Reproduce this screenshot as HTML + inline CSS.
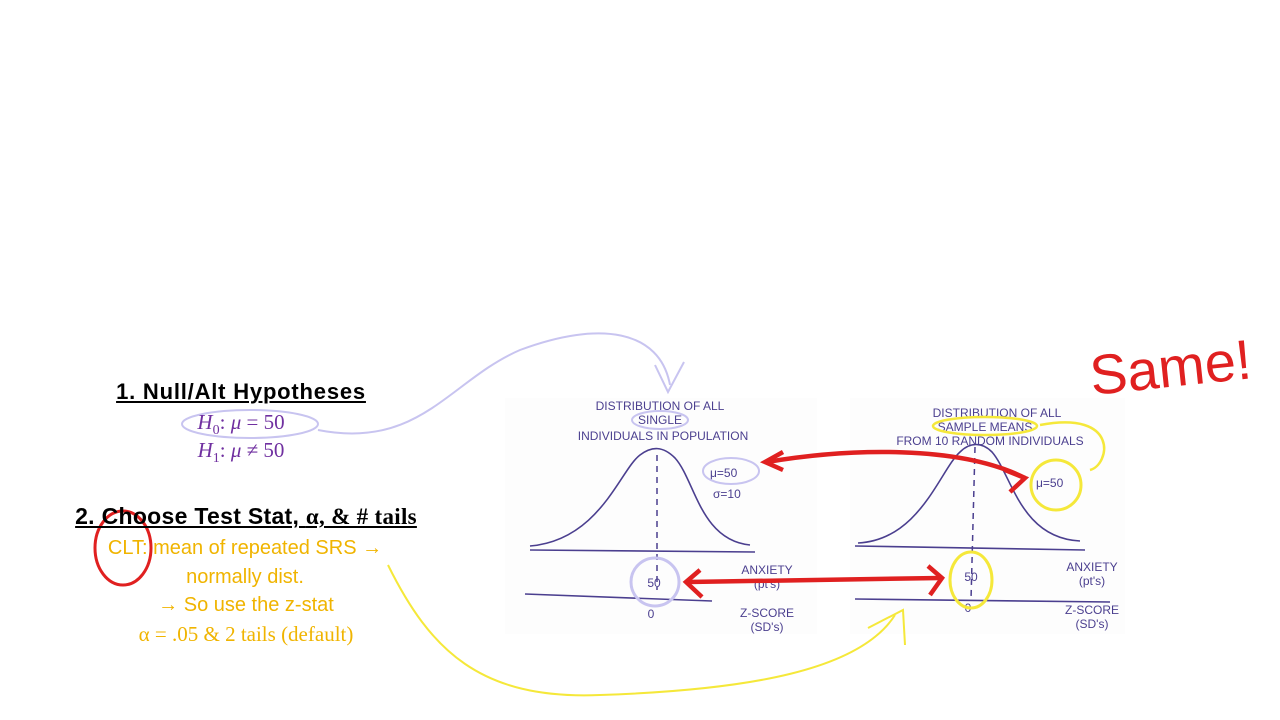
<!DOCTYPE html>
<html><head><meta charset="utf-8"><style>
body{margin:0;width:1280px;height:720px;background:#fff;overflow:hidden;position:relative;font-family:"Liberation Sans",sans-serif}
.t{position:absolute;white-space:nowrap;transform:translateX(-50%)}
.h{font-weight:bold;text-decoration:underline;font-size:22px;color:#000;letter-spacing:0.3px}
.m{font-family:"Liberation Serif",serif;font-size:21px;color:#7030a0}
.o{font-size:20px;color:#f0b400}
svg{position:absolute;left:0;top:0}
.hw{font-family:"Liberation Sans",sans-serif;fill:#4b3f8f;font-size:12px}
</style></head><body>
<svg width="1280" height="720">
<rect x="505" y="398" width="312" height="236" fill="#fdfdfd"/>
<rect x="850" y="398" width="275" height="236" fill="#fdfdfd"/>
<path d="M318,430 C420,450 450,380 520,350 C600,320 660,330 670,385" fill="none" stroke="#c8c4f0" stroke-width="2"/>
<path d="M655,365 L668,392 L684,362" fill="none" stroke="#c8c4f0" stroke-width="2"/>
<ellipse cx="250" cy="424" rx="68" ry="14" fill="none" stroke="#c8c4f0" stroke-width="2"/>
<path d="M530,546 C600,540 620,470 640,455 C652,446 663,446 675,458 C695,480 700,540 750,545" fill="none" stroke="#4b3f8f" stroke-width="1.6"/>
<line x1="530" y1="550" x2="755" y2="552" stroke="#4b3f8f" stroke-width="1.6"/>
<line x1="657" y1="455" x2="657" y2="590" stroke="#4b3f8f" stroke-width="1.5" stroke-dasharray="6,5"/>
<line x1="525" y1="594" x2="712" y2="601" stroke="#4b3f8f" stroke-width="1.6"/>
<text class="hw" x="660" y="410" text-anchor="middle">DISTRIBUTION  OF ALL</text>
<text class="hw" x="660" y="424" text-anchor="middle">SINGLE</text>
<text class="hw" x="663" y="440" text-anchor="middle">INDIVIDUALS IN POPULATION</text>
<ellipse cx="660" cy="420" rx="28" ry="9" fill="none" stroke="#c8c4f0" stroke-width="2"/>
<text class="hw" x="710" y="477" font-size="15">μ=50</text>
<text class="hw" x="713" y="498" font-size="15">σ=10</text>
<ellipse cx="731" cy="471" rx="28" ry="13" fill="none" stroke="#c8c4f0" stroke-width="2"/>
<text class="hw" x="654" y="587" text-anchor="middle" font-size="15">50</text>
<text class="hw" x="651" y="618" text-anchor="middle" font-size="15">0</text>
<ellipse cx="655" cy="582" rx="24" ry="24" fill="none" stroke="#c8c4f0" stroke-width="3"/>
<text class="hw" x="767" y="574" text-anchor="middle" font-size="11">ANXIETY</text>
<text class="hw" x="767" y="588" text-anchor="middle" font-size="10">(pt's)</text>
<text class="hw" x="767" y="617" text-anchor="middle" font-size="11">Z-SCORE</text>
<text class="hw" x="767" y="631" text-anchor="middle" font-size="10">(SD's)</text>
<path d="M858,543 C920,540 940,470 960,452 C970,442 982,442 992,452 C1012,475 1020,538 1080,541" fill="none" stroke="#4b3f8f" stroke-width="1.6"/>
<line x1="855" y1="546" x2="1085" y2="550" stroke="#4b3f8f" stroke-width="1.6"/>
<line x1="975" y1="447" x2="971" y2="600" stroke="#4b3f8f" stroke-width="1.5" stroke-dasharray="6,5"/>
<line x1="855" y1="599" x2="1110" y2="602" stroke="#4b3f8f" stroke-width="1.6"/>
<text class="hw" x="997" y="417" text-anchor="middle">DISTRIBUTION OF ALL</text>
<text class="hw" x="985" y="431" text-anchor="middle">SAMPLE MEANS</text>
<text class="hw" x="990" y="445" text-anchor="middle">FROM 10 RANDOM INDIVIDUALS</text>
<ellipse cx="985" cy="426" rx="52" ry="9" fill="none" stroke="#f5e83a" stroke-width="2.5"/>
<path d="M1040,425 C1120,410 1110,465 1090,470" fill="none" stroke="#f5e83a" stroke-width="2.5"/>
<text class="hw" x="1036" y="487" font-size="15">μ=50</text>
<circle cx="1056" cy="485" r="25" fill="none" stroke="#f5e83a" stroke-width="3"/>
<text class="hw" x="971" y="581" text-anchor="middle" font-size="15">50</text>
<text class="hw" x="968" y="612" text-anchor="middle" font-size="15">0</text>
<ellipse cx="971" cy="580" rx="21" ry="28" fill="none" stroke="#f5e83a" stroke-width="3"/>
<text class="hw" x="1092" y="571" text-anchor="middle" font-size="11">ANXIETY</text>
<text class="hw" x="1092" y="585" text-anchor="middle" font-size="10">(pt's)</text>
<text class="hw" x="1092" y="614" text-anchor="middle" font-size="11">Z-SCORE</text>
<text class="hw" x="1092" y="628" text-anchor="middle" font-size="10">(SD's)</text>
<path d="M767,462 C850,448 960,445 1025,478" fill="none" stroke="#e02020" stroke-width="4.5"/>
<path d="M783,452 L765,462 L783,470" fill="none" stroke="#e02020" stroke-width="4.5"/>
<path d="M1005,470 L1025,478 L1010,492" fill="none" stroke="#e02020" stroke-width="4.5"/>
<line x1="688" y1="582" x2="940" y2="578" stroke="#e02020" stroke-width="4.5"/>
<path d="M700,570 L686,582 L702,597" fill="none" stroke="#e02020" stroke-width="4.5"/>
<path d="M928,566 L942,578 L930,595" fill="none" stroke="#e02020" stroke-width="4.5"/>
<ellipse cx="123" cy="548" rx="28" ry="37" fill="none" stroke="#e02020" stroke-width="3"/>
<text x="1092" y="395" font-size="56" fill="#e02020" font-family="Liberation Sans,sans-serif" transform="rotate(-6 1092 395)">Same!</text>
<path d="M388,565 C430,650 480,700 600,695 C750,690 860,670 895,615" fill="none" stroke="#f5e83a" stroke-width="2"/>
<path d="M868,628 L903,610 L905,645" fill="none" stroke="#f5e83a" stroke-width="2"/>
</svg>
<div class="t h" style="left:241px;top:379px;letter-spacing:0.8px">1. Null/Alt Hypotheses</div>
<div class="t m" style="left:241px;top:410px"><i>H</i><sub style="font-size:14px">0</sub>: <i>μ</i> = 50</div>
<div class="t m" style="left:241px;top:438px"><i>H</i><sub style="font-size:14px">1</sub>: <i>μ</i> ≠ 50</div>
<div class="t h" style="left:246px;top:503px;font-size:23px">2. Choose Test Stat, <span style="font-family:'Liberation Serif',serif">α, &amp; # tails</span></div>
<div class="t o" style="left:245px;top:537px">CLT: mean of repeated SRS →</div>
<div class="t o" style="left:245px;top:566px">normally dist.</div>
<div class="t o" style="left:246px;top:594px">→ So use the z-stat</div>
<div class="t o" style="left:246px;top:622px;font-family:'Liberation Serif',serif;font-size:21px">α = .05 &amp; 2 tails (default)</div>
</body></html>
